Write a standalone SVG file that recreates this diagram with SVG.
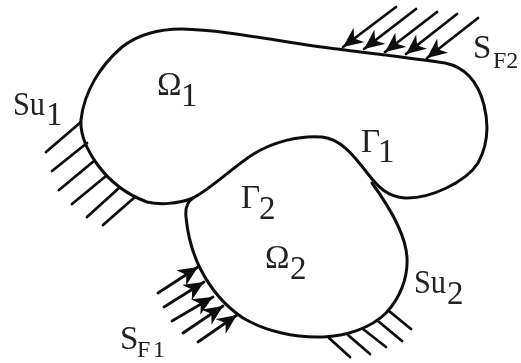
<svg xmlns="http://www.w3.org/2000/svg" width="521" height="363" viewBox="0 0 521 363">
<defs>
<marker id="ah" markerUnits="userSpaceOnUse" markerWidth="21" markerHeight="18" refX="20" refY="9" orient="auto"><path d="M0 0L20 9L0 18L6 9Z" fill="#111"/></marker>
<filter id="soft" filterUnits="userSpaceOnUse" x="0" y="0" width="521" height="363"><feGaussianBlur stdDeviation="0.55"/></filter>
</defs>
<style>
.b{fill:none;stroke:#111;stroke-width:3;stroke-linecap:round;stroke-linejoin:round}
.h{fill:none;stroke:#111;stroke-width:2.8;stroke-linecap:round}
.a{fill:none;stroke:#111;stroke-width:2.8;stroke-linecap:round;marker-end:url(#ah)}
text{font-family:"Liberation Serif","Times New Roman",serif;fill:#222;font-size:33px}
.f{font-size:24px}
</style>
<rect width="521" height="363" fill="#fff"/>
<g filter="url(#soft)">
<g id="boundaries">
<path class="b" d="M81 120C84 92 100 66 122 47C140 33 160 29 182 29C230 30 290 44 345 50C385 55 420 59 445 63C465 67 478 82 484 105C489 125 488 145 478 163C466 182 430 199 405 198C388 197 378 187 368 174C352 153 340 139 322 137C300 135 272 142 252 155C232 168 212 188 193 198C178 204 160 205 147 202C128 195 110 182 97 164C87 150 80 135 81 120Z"/>
<path class="b" d="M193 198C187 202 185 208 186 217C188 238 193 254 200 268C210 288 225 306 243 318C265 331 295 338 323 337C345 336 370 329 386 313C400 298 408 278 407 258C406 235 388 205 372 183"/>
</g>
<g id="connectors">
<g id="su1">
<path class="h" d="M81 122L46 152M87 143L52 171M94 161L59 190M106 176L72 204M119 188L87 217M135 197L103 225"/>
</g>
<g id="su2">
<path class="h" d="M329 338L350 357M348 335L370 354M363 329L386 347M378 321L402 341M389 311L411 329"/>
</g>
<g id="sf2">
<line class="a" x1="396" y1="7" x2="343" y2="47"/>
<line class="a" x1="416" y1="9" x2="364" y2="49"/>
<line class="a" x1="437" y1="12" x2="385" y2="52"/>
<line class="a" x1="457" y1="14" x2="406" y2="54"/>
<line class="a" x1="478" y1="18" x2="427" y2="58"/>
</g>
<g id="sf1">
<line class="a" x1="158" y1="293" x2="198" y2="267"/>
<line class="a" x1="164" y1="307" x2="204" y2="282"/>
<line class="a" x1="172" y1="321" x2="213" y2="297"/>
<line class="a" x1="183" y1="333" x2="223" y2="306"/>
<line class="a" x1="198" y1="342" x2="237" y2="315"/>
</g>
</g>
<g id="labels">
<text x="13" y="115" textLength="32" lengthAdjust="spacingAndGlyphs">Su</text><text x="46" y="125">1</text>
<text x="157" y="95">Ω</text><text x="181" y="106">1</text>
<text x="361" y="152">Γ</text><text x="378" y="162">1</text>
<text x="241" y="208">Γ</text><text x="259" y="219">2</text>
<text x="265" y="268">Ω</text><text x="290" y="279">2</text>
<text x="414" y="293" textLength="32" lengthAdjust="spacingAndGlyphs">Su</text><text x="447" y="304">2</text>
<text x="473" y="58">S</text><text class="f" x="493" y="68">F2</text>
<text x="120" y="349">S</text><text class="f" x="137" y="357" textLength="28">F1</text>
</g>
</g>
</svg>
